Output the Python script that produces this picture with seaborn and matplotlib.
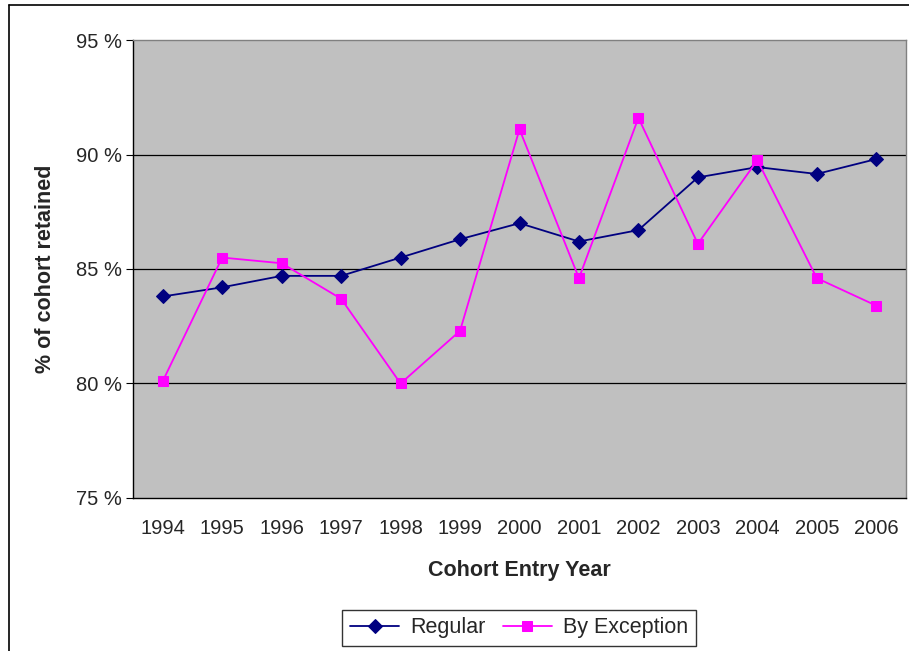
import numpy as np
import pandas as pd
import seaborn as sns
import matplotlib.pyplot as plt
from matplotlib.lines import Line2D

# data
years = ['1994', '1995', '1996', '1997', '1998', '1999', '2000',
         '2001', '2002', '2003', '2004', '2005', '2006']
regular = [83.8, 84.2, 84.7, 84.7, 85.5, 86.3, 87.0, 86.2, 86.7, 89.0, 89.45, 89.15, 89.8]
by_exception = [80.1, 85.5, 85.25, 83.7, 80.0, 82.3, 91.1, 84.6, 91.6, 86.1, 89.75, 84.6, 83.4]

sns.set_style('white')
plt.rcParams['font.family'] = ['Liberation Sans', 'DejaVu Sans']

df = pd.DataFrame({'pos': np.arange(len(years)), 'Regular': regular,
                   'By Exception': by_exception})

fig = plt.figure(figsize=(9.09, 6.51), dpi=100)
ax = fig.add_axes([133 / 909, 1 - 498 / 651, (906 - 133) / 909, (498 - 40) / 651])
ax.set_facecolor('#c0c0c0')

sns.lineplot(data=df, x='pos', y='Regular', ax=ax, color='#000080', marker='D',
             markersize=7, markeredgecolor='#000080', linewidth=1.3, label='Regular')
sns.lineplot(data=df, x='pos', y='By Exception', ax=ax, color='#ff00ff', marker='s',
             markersize=7, markeredgecolor='#ff00ff', linewidth=1.3, label='By Exception')

ax.set_xlim(-0.5, len(years) - 0.5)
ax.set_ylim(75, 95)
ax.set_yticks([75, 80, 85, 90, 95])
ax.set_yticklabels(['75 %', '80 %', '85 %', '90 %', '95 %'], fontsize=14.5)
ax.set_xticks(df['pos'])
ax.set_xticklabels(years, fontsize=14.5)
ax.set_xticks(np.arange(-0.5, len(years)), minor=True)
ax.tick_params(axis='x', which='major', length=0, pad=15)
ax.tick_params(axis='x', which='minor', length=5, direction='out', color='black')
ax.tick_params(axis='y', length=5, direction='out', color='black', left=True, pad=3)
for v in [80, 85, 90]:
    ax.axhline(v, color='black', linewidth=0.9, zorder=0.5)

for side in ['top', 'right']:
    ax.spines[side].set_color('#808080')
    ax.spines[side].set_linewidth(1)
for side in ['left', 'bottom']:
    ax.spines[side].set_color('black')
    ax.spines[side].set_linewidth(1)

ax.set_xlabel('Cohort Entry Year', fontsize=15.5, fontweight='bold', labelpad=16)
ax.set_ylabel('% of cohort retained', fontsize=15.5, fontweight='bold', labelpad=14)

ax.get_legend().remove()
h, l = ax.get_legend_handles_labels()
leg = fig.legend(h, l, loc='center', bbox_to_anchor=(519 / 909, 1 - 628 / 651), ncol=2,
                 fontsize=15.5, frameon=True, fancybox=False, edgecolor='black',
                 handlelength=2.3, handletextpad=0.5, columnspacing=0.8, borderpad=0.35)
leg.get_frame().set_linewidth(1)

# chart frame edges (left and top)
fig.add_artist(Line2D([8.5 / 909, 8.5 / 909], [0, 1 - 4.5 / 651], transform=fig.transFigure,
                      color='black', linewidth=1.2))
fig.add_artist(Line2D([8.5 / 909, 1], [1 - 4.5 / 651, 1 - 4.5 / 651], transform=fig.transFigure,
                      color='black', linewidth=1.2))

fig.savefig('out.png', dpi=100)
